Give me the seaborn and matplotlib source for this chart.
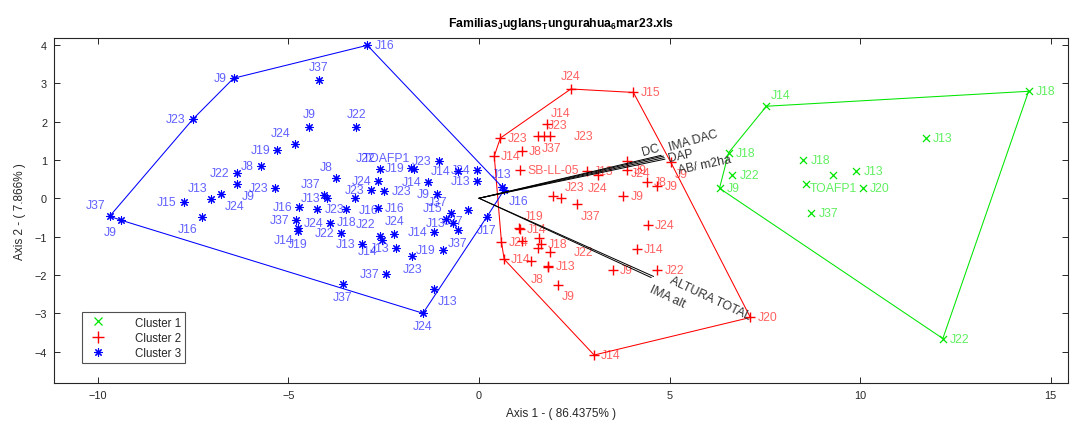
import numpy as np
import pandas as pd
import matplotlib
matplotlib.use("Agg")
import matplotlib.pyplot as plt
from matplotlib.lines import Line2D
import seaborn as sns

# ---------------- data ----------------
# Cluster 1 (green x)
c1_x = [7.54, 14.42, 11.73, 6.55, 6.65, 6.31, 8.51, 9.29, 8.59, 9.90, 10.08, 8.72, 12.17]
c1_y = [2.40, 2.79, 1.57, 1.19, 0.60, 0.26, 0.99, 0.60, 0.37, 0.70, 0.26, -0.39, -3.66]
c1_lab = ["J14", "J18", "J13", "J18", "J22", "J9", "J18", "TOAFP1", "", "J13", "J20", "J37", "J22"]
c1_pos = ["ar", "r", "r", "r", "r", "r", "r", "b", "r", "r", "r", "r", "r"]

# Cluster 2 (red +)
c2_x = [2.41, 4.05, 1.78, 0.56, 1.54, 1.70, 1.86, 0.40, 1.13, 1.08, 2.83, 3.11, 3.87, 3.87,
        5.03, 4.40, 4.68, 1.94, 2.15, 2.57, 3.79, 4.44, 4.15, 4.68, 3.52, 2.06, 3.02, 1.82,
        1.80, 1.87, 1.62, 1.58, 1.36, 0.66, 1.06, 1.08, 1.14, 0.59, 1.56, 7.12]
c2_y = [2.85, 2.76, 1.93, 1.57, 1.62, 1.62, 1.62, 1.10, 1.23, 0.74, 0.70, 0.61, 0.96, 0.73,
        0.94, 0.42, 0.31, 0.07, 0.00, -0.16, 0.07, -0.70, -1.32, -1.87, -1.87, -2.26, -4.09, -1.78,
        -1.80, -1.41, -1.20, -1.04, -1.65, -1.59, -0.77, -0.80, -1.11, -1.15, -1.31, -3.11]
c2_lab = ["J24", "J15", "J14", "J23", "J37", "J23", "J23", "J14", "J8", "SB-LL-05", "J13", "J24",
          "J24", "J9", "J9", "J8", "J9", "", "J23", "J37", "J9", "J24", "J14", "J22", "J9", "J9",
          "J14", "J13", "J8", "J22", "J18", "", "", "J14", "J19", "J14", "", "J24", "", "J20"]
c2_pos = ["a", "r", "ar", "r", "br", "ar", "rr", "r", "r", "r", "r", "b", "br", "r", "br", "r",
          "r", "r", "ar", "br", "r", "r", "r", "r", "r", "br", "r", "r", "bl", "rr", "r", "r",
          "r", "r", "ar", "r", "r", "r", "r", "r"]

# Cluster 3 (blue *)
c3_x = [-6.44, -7.51, -2.93, -4.21, -4.45, -3.22, -4.84, -5.29, -5.73, -6.36, -6.34, -9.69,
        -9.40, -7.75, -7.02, -6.78, -7.28, -5.34, -4.71, -4.79, -4.76, -4.76, -3.74, -4.06,
        -3.98, -4.24, -3.48, -3.90, -3.61, -2.61, -2.65, -2.83, -2.48, -3.26, -2.65, -2.60,
        -2.55, -2.22, -3.06, -2.17, -1.78, -1.70, -1.06, -1.34, -1.11, -0.56, -0.05, -0.05,
        -0.30, -0.73, -0.86, -0.69, -1.17, -0.56, -0.95, -1.75, 0.21, -2.43, -3.57, -1.19,
        -1.47, 0.60, 0.66]
c3_y = [3.13, 2.06, 3.99, 3.08, 1.85, 1.85, 1.41, 1.25, 0.84, 0.65, 0.37, -0.47,
        -0.57, -0.10, -0.03, 0.10, -0.50, 0.26, -0.23, -0.57, -0.78, -0.86, 0.52, 0.08,
        0.00, -0.28, -0.28, -0.65, -0.90, 0.76, 0.45, 0.22, 0.19, 0.00, -0.26, -0.98,
        -1.08, -0.93, -1.20, -1.31, 0.80, 0.76, 0.97, 0.43, 0.11, 0.70, 0.74, 0.46,
        -0.30, -0.39, -0.55, -0.65, -0.87, -0.83, -1.35, -1.50, -0.48, -1.98, -2.25, -2.38,
        -3.00, 0.30, 0.22]
c3_lab = ["J9", "J23", "J16", "J37", "J9", "J22", "J24", "J19", "J8", "J22", "J9", "J37",
          "J9", "J15", "J13", "J24", "J16", "J23", "J16", "J37", "J14", "J19", "J8", "J37",
          "J13", "J23", "J18", "J24", "J22", "J22", "J24", "J23", "J23", "J16", "J16", "J22",
          "J14", "J24", "J13", "J13", "J19", "TOAFP1", "J23", "J14", "J9", "J14", "J24", "J13",
          "J37", "J37", "J15", "J13", "J14", "J37", "J19", "J23", "J17", "J37", "J37", "J13",
          "J24", "J13", "J16"]
c3_pos = ["l", "l", "r", "a", "a", "a", "al", "l", "l", "l", "br", "al",
          "bl", "l", "al", "br", "bl", "l", "l", "l", "bl", "b", "al", "al",
          "l", "r", "b", "l", "l", "al", "l", "l", "r", "br", "r", "al",
          "bl", "a", "l", "l", "l", "al", "l", "l", "l", "l", "l", "l",
          "bl", "al", "al", "l", "l", "b", "l", "b", "b", "l", "b", "br",
          "b", "a", "br"]

# Biplot variable vectors
var_names = ["DC", "IMA DAC", "DAP", "AB/ m2ha", "ALTURA TOTAL", "IMA alt"]
var_x = [4.78, 4.84, 4.86, 4.88, 4.58, 4.52]
var_y = [1.12, 1.10, 1.06, 1.02, -2.04, -2.07]

cluster_names = ["Cluster 1", "Cluster 2", "Cluster 3"]

# ---------------- styles ----------------
colors = ["#00e600", "#ff0000", "#0000ff"]
markers = ["x", "+", (8, 2, 0)]
msizes = [26, 50, 30]
mlw = [0.9, 1.0, 0.8]
OFF = {
    "r": (5, 0, "left", "center"), "rr": (17, 0, "left", "center"),
    "l": (-5, 0, "right", "center"),
    "a": (0, 5, "center", "bottom"), "b": (0, -5, "center", "top"),
    "ar": (3, 4, "left", "bottom"), "al": (-3, 4, "right", "bottom"),
    "br": (3, -4, "left", "top"), "bl": (-3, -4, "right", "top"),
}
var_lab_dx = [-0.28, 0.79, 0.43, 1.04, 1.47, 0.43]
var_lab_dy = [0.14, 0.41, 0.06, -0.13, -0.57, -0.49]
var_rot = [16, 16, 12, 12, -25, -25]


def convex_hull(xs, ys):
    pts = sorted(set(zip(xs, ys)))
    def cross(o, a, b):
        return (a[0] - o[0]) * (b[1] - o[1]) - (a[1] - o[1]) * (b[0] - o[0])
    lower, upper = [], []
    for p in pts:
        while len(lower) >= 2 and cross(lower[-2], lower[-1], p) <= 0:
            lower.pop()
        lower.append(p)
    for p in reversed(pts):
        while len(upper) >= 2 and cross(upper[-2], upper[-1], p) <= 0:
            upper.pop()
        upper.append(p)
    h = lower[:-1] + upper[:-1]
    h.append(h[0])
    return [p[0] for p in h], [p[1] for p in h]


sns.set_theme(style="ticks")
plt.rcParams["font.family"] = ["Liberation Sans", "DejaVu Sans"]
plt.rcParams["mathtext.fontset"] = "custom"
plt.rcParams["mathtext.rm"] = "Liberation Sans"

fig = plt.figure(figsize=(10.7, 4.31), dpi=100)
ax = fig.add_axes([0.0505, 0.109, 0.9475, 0.8005])

clusters = [(c1_x, c1_y, c1_lab, c1_pos), (c2_x, c2_y, c2_lab, c2_pos), (c3_x, c3_y, c3_lab, c3_pos)]

for i, (xs, ys, labs, poss) in enumerate(clusters):
    df = pd.DataFrame({"x": xs, "y": ys, "label": labs})
    hx, hy = convex_hull(xs, ys)
    ax.plot(hx, hy, color=colors[i], lw=0.75, zorder=2)
    sns.scatterplot(data=df, x="x", y="y", marker=markers[i], color=colors[i],
                    s=msizes[i], linewidth=mlw[i], ax=ax, legend=False, zorder=3)
    for x, y, lab, p in zip(xs, ys, labs, poss):
        if not lab:
            continue
        dx, dy, ha, va = OFF[p]
        ax.annotate(lab, (x, y), xytext=(dx, dy), textcoords="offset points",
                    ha=ha, va=va, fontsize=8.8, color=colors[i], alpha=0.62, zorder=4)

for name, vx, vy, ldx, ldy, rot in zip(var_names, var_x, var_y, var_lab_dx, var_lab_dy, var_rot):
    ax.plot([0, vx], [0, vy], color="black", lw=0.7, zorder=5)
    ax.text(vx + ldx, vy + ldy, name, rotation=rot, ha="center", va="center",
            fontsize=8.8, color="#333333", zorder=6, rotation_mode="anchor")

ax.set_xlim(-11.15, 15.45)
ax.set_ylim(-4.82, 4.18)
ax.set_xticks([-10, -5, 0, 5, 10, 15])
ax.set_yticks([-4, -3, -2, -1, 0, 1, 2, 3, 4])
ax.tick_params(direction="in", top=True, right=True, length=4, width=0.7,
               labelsize=7.8, colors="#262626", pad=5)
for sp in ax.spines.values():
    sp.set_color("#262626")
    sp.set_linewidth(0.8)

ax.set_xlabel("Axis 1 - ( 86.4375% )", fontsize=8.5, color="#262626", labelpad=5)
ax.set_ylabel("Axis 2 - ( 7.866% )", fontsize=8.5, color="#262626", labelpad=6)
ax.set_title(r"Familias$_\mathregular{J}$uglans$_\mathregular{T}$ungurahua$_\mathregular{6}$mar23.xls",
             fontsize=8.8, fontweight="bold", color="black", pad=9)

handles = [Line2D([], [], linestyle="none", marker=markers[i], color=colors[i],
                  markersize=[6, 8, 6][i], markeredgewidth=mlw[i]) for i in range(3)]
leg = ax.legend(handles, cluster_names, loc="lower left", bbox_to_anchor=(0.028, 0.058),
                fontsize=8.3, frameon=True, fancybox=False, edgecolor="#262626",
                handlelength=2.0, handletextpad=2.2, borderpad=0.35, labelspacing=0.28,
                borderaxespad=0, borderaxespad_=None) if False else ax.legend(
                handles, cluster_names, loc="lower left", bbox_to_anchor=(0.028, 0.058),
                fontsize=8.3, frameon=True, fancybox=False, edgecolor="#262626",
                handlelength=2.0, handletextpad=2.2, borderpad=0.35, labelspacing=0.28,
                borderaxespad=0)
leg.get_frame().set_linewidth(0.8)

fig.savefig("out.png", dpi=100)
